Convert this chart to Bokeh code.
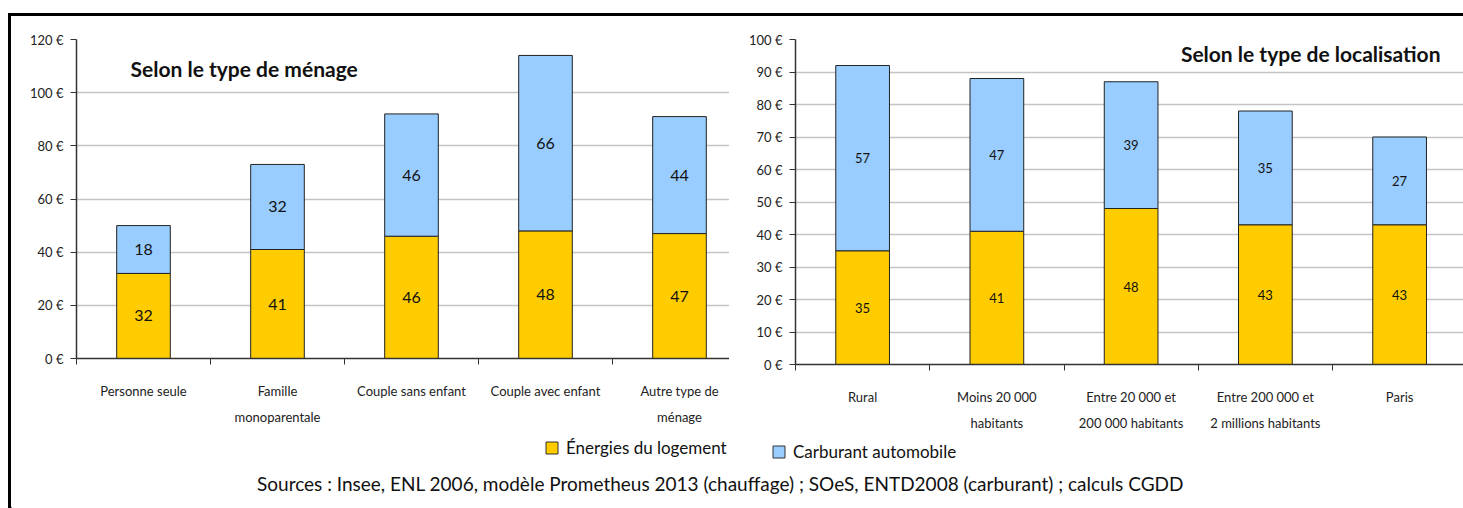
from bokeh.plotting import figure
from bokeh.models import (Range1d, FixedTicker, Label, LabelSet, Legend, LegendItem,
                          ColumnDataSource, PrintfTickFormatter)
from bokeh.core.properties import value
from bokeh.layouts import column, row
from bokeh.embed import file_html
from bokeh.resources import INLINE

# ---------------- data ----------------
menage_cats = ["Personne seule", "Famille\nmonoparentale", "Couple sans enfant",
               "Couple avec enfant", "Autre type de\nménage"]
menage_energie = [32, 41, 46, 48, 47]
menage_carburant = [18, 32, 46, 66, 44]
menage_yticks = [0, 20, 40, 60, 80, 100, 120]

loc_cats = ["Rural", "Moins 20 000\nhabitants", "Entre 20 000 et\n200 000 habitants",
            "Entre 200 000 et\n2 millions habitants", "Paris"]
loc_energie = [35, 41, 48, 43, 43]
loc_carburant = [57, 47, 39, 35, 27]
loc_yticks = [0, 10, 20, 30, 40, 50, 60, 70, 80, 90, 100]

series_names = ["Énergies du logement", "Carburant automobile"]
title_menage = "Selon le type de ménage"
title_loc = "Selon le type de localisation"
sources_text = ("Sources : Insee, ENL 2006, modèle Prometheus 2013 (chauffage) ; "
                "SOeS, ENTD2008 (carburant) ; calculs CGDD")

YELLOW = "#FFCC00"
BLUE = "#99CCFF"
FONT = "Lato"


def make_chart(cats, energie, carb, yticks, width, height, bl, bb, frame_w, cat_px,
               val_size, title, title_x, title_y, title_align):
    n = len(cats)
    xs = [i + 0.5 for i in range(n)]
    ymax = yticks[-1]
    p = figure(width=width, height=height, x_range=Range1d(0, frame_w / cat_px),
               y_range=Range1d(0, ymax), output_backend="svg", toolbar_location=None,
               min_border_left=bl, min_border_right=0, min_border_top=23,
               min_border_bottom=bb, outline_line_color=None,
               background_fill_color="white", border_fill_color="white")
    src = ColumnDataSource(dict(
        x=xs, e=energie, c=carb,
        tot=[a + b for a, b in zip(energie, carb)],
        emid=[a / 2 for a in energie],
        cmid=[a + b / 2 for a, b in zip(energie, carb)],
        etxt=[str(v) for v in energie], ctxt=[str(v) for v in carb]))
    p.vbar(x="x", bottom=0, top="e", width=0.4, source=src, fill_color=YELLOW,
           line_color="#222222", line_width=1)
    p.vbar(x="x", bottom="e", top="tot", width=0.4, source=src, fill_color=BLUE,
           line_color="#222222", line_width=1)
    for col, txt in (("emid", "etxt"), ("cmid", "ctxt")):
        p.add_layout(LabelSet(x="x", y=col, text=txt, source=src, text_align="center",
                              text_baseline="middle", text_font=value(FONT),
                              text_font_size=value(val_size), text_color="#111111"))
    # y axis
    ya = p.yaxis[0]
    ya.ticker = FixedTicker(ticks=yticks, minor_ticks=[])
    ya.formatter = PrintfTickFormatter(format="%d €")
    ya.axis_line_color = "#333333"
    ya.axis_line_width = 1.5
    ya.major_tick_in = 0
    ya.major_tick_out = 6
    ya.major_tick_line_color = "#333333"
    ya.major_label_standoff = 7
    ya.major_label_text_font = FONT
    ya.major_label_text_font_size = "13px"
    ya.major_label_text_color = "#222222"
    p.ygrid.ticker = FixedTicker(ticks=yticks)
    p.ygrid.grid_line_color = "#c4c4c4"
    p.ygrid.grid_line_width = 1.5
    p.xgrid.visible = False
    # x axis
    xa = p.xaxis[0]
    xa.ticker = FixedTicker(ticks=xs, minor_ticks=list(range(n + 1)))
    xa.major_label_overrides = {x: c for x, c in zip(xs, cats)}
    xa.major_tick_in = 0
    xa.major_tick_out = 0
    xa.minor_tick_in = 0
    xa.minor_tick_out = 6
    xa.minor_tick_line_color = "#333333"
    xa.axis_line_color = "#333333"
    xa.axis_line_width = 1.5
    xa.major_label_standoff = 18
    xa.major_label_text_font = FONT
    xa.major_label_text_font_size = "13px"
    xa.major_label_text_line_height = 1.68
    xa.major_label_text_color = "#222222"
    p.add_layout(Label(x=title_x, y=title_y, text=title, text_font=FONT,
                       text_font_size="21px", text_font_style="bold",
                       text_align=title_align, text_baseline="middle",
                       text_color="#111111"))
    return p


# left chart: frame 76..729 px, category 134 px, frame bottom at 358
p1 = make_chart(menage_cats, menage_energie, menage_carburant, menage_yticks,
                width=718, height=422, bl=65, bb=80, frame_w=653, cat_px=134,
                val_size="16px", title=title_menage,
                title_x=54 / 134, title_y=109, title_align="left")
# right chart: frame 795..1463 px, category 134.25 px, frame bottom at 364
p2 = make_chart(loc_cats, loc_energie, loc_carburant, loc_yticks,
                width=734, height=422, bl=66, bb=74, frame_w=668, cat_px=134.25,
                val_size="13px", title=title_loc,
                title_x=645 / 134.25, title_y=95.7, title_align="right")

# bottom strip: legend + sources
p3 = figure(width=1452, height=70, x_range=Range1d(0, 1452), y_range=Range1d(0, 70),
            output_backend="svg", toolbar_location=None, min_border=0,
            outline_line_color=None, background_fill_color="white",
            border_fill_color="white")
p3.axis.visible = False
p3.grid.visible = False
r_e = p3.vbar(x=[-1000], top=[1], width=1, fill_color=YELLOW, line_color="#333333")
r_c = p3.vbar(x=[-1000], top=[1], width=1, fill_color=BLUE, line_color="#333333")
for r, name, loc in ((r_e, series_names[0], (533, 50)), (r_c, series_names[1], (760, 46))):
    lg = Legend(items=[LegendItem(label=name, renderers=[r])], location=loc,
                glyph_width=15, glyph_height=15, label_height=15, label_standoff=7,
                padding=0, margin=0, border_line_color=None,
                background_fill_alpha=0, label_text_font=FONT,
                label_text_font_size="17px", label_text_color="#111111")
    p3.add_layout(lg)
p3.add_layout(Label(x=709, y=25, text=sources_text, text_font=FONT,
                    text_font_size="19px", text_align="center",
                    text_baseline="middle", text_color="#111111"))

layout = column(row(p1, column(p2)), p3, margin=(13, 0, 0, 8),
                styles={"border-left": "3px solid black", "border-top": "3px solid black"})

open("out.html", "w").write(file_html(layout, INLINE))
